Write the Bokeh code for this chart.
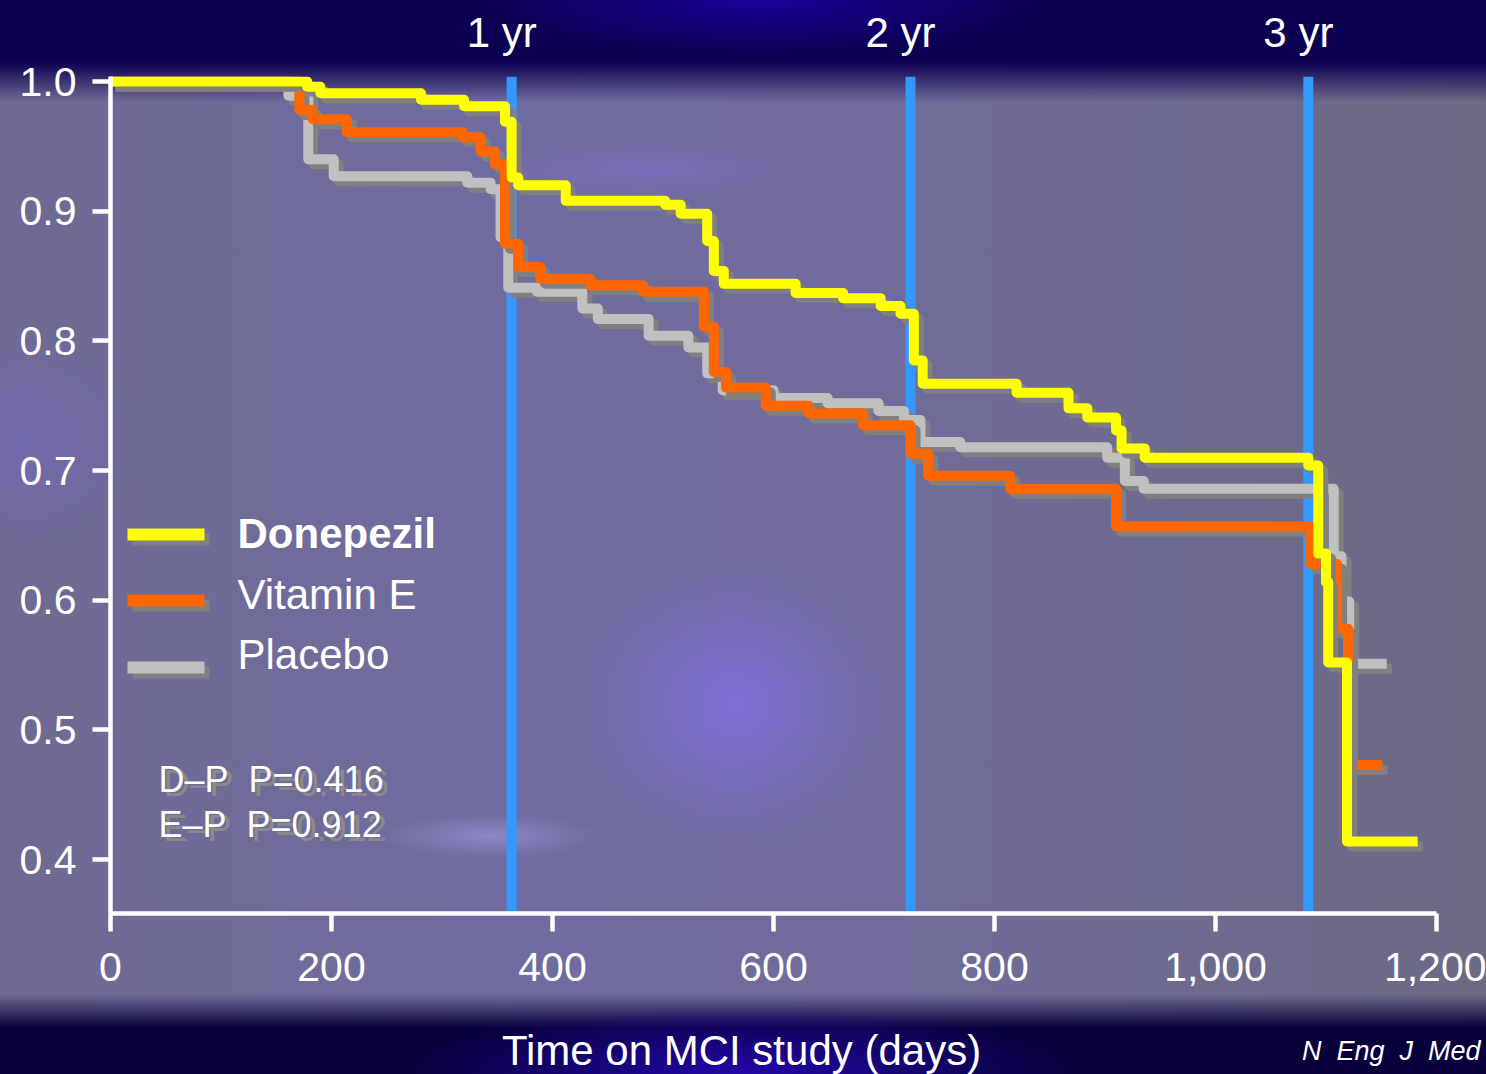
import numpy as np
from bokeh.plotting import figure
from bokeh.models import (Range1d, FixedTicker, NumeralTickFormatter, LinearAxis, Span,
                          Label, BoxAnnotation, GlobalInlineStyleSheet)
from bokeh.embed import file_html
from bokeh.resources import INLINE

# ---------------- data ----------------
donepezil_days = [0, 178, 190, 281, 320, 357, 363, 369, 412, 502, 516, 540, 546, 555, 620,
                  663, 697, 715, 727, 735, 820, 867, 884, 910, 915, 936, 1084, 1093, 1100,
                  1102, 1119, 1183]
donepezil_surv = [1.0, 0.996, 0.991, 0.986, 0.981, 0.969, 0.926, 0.920, 0.908, 0.905, 0.898,
                  0.877, 0.854, 0.844, 0.837, 0.833, 0.827, 0.821, 0.785, 0.767, 0.760, 0.748,
                  0.741, 0.731, 0.717, 0.710, 0.704, 0.636, 0.614, 0.552, 0.414, 0.414]

vitamin_e_days = [0, 171, 183, 214, 319, 335, 348, 357, 369, 389, 434, 482, 537, 546, 557,
                  593, 632, 681, 724, 740, 814, 910, 1086, 1110, 1120, 1151]
vitamin_e_surv = [1.0, 0.978, 0.971, 0.961, 0.957, 0.946, 0.936, 0.875, 0.857, 0.848, 0.843,
                  0.838, 0.811, 0.776, 0.764, 0.750, 0.744, 0.735, 0.713, 0.696, 0.686, 0.657,
                  0.628, 0.578, 0.473, 0.473]

placebo_days = [0, 161, 179, 202, 323, 344, 353, 360, 386, 427, 441, 487, 523, 540, 554, 600,
                649, 695, 718, 733, 769, 902, 918, 935, 1107, 1114, 1121, 1155]
placebo_surv = [1.0, 0.989, 0.940, 0.927, 0.922, 0.917, 0.880, 0.841, 0.838, 0.825, 0.817,
                0.804, 0.795, 0.775, 0.762, 0.756, 0.752, 0.746, 0.739, 0.722, 0.718, 0.710,
                0.692, 0.686, 0.634, 0.599, 0.551, 0.551]

year_marks = [363, 724, 1084]
year_labels = ["1 yr", "2 yr", "3 yr"]
x_ticks = [0, 200, 400, 600, 800, 1000, 1200]
y_ticks = [0.4, 0.5, 0.6, 0.7, 0.8, 0.9, 1.0]
series_names = ["Donepezil", "Vitamin E", "Placebo"]
p_value_texts = ["D\u2013P\u00a0 P=0.416", "E\u2013P\u00a0 P=0.912"]
x_title = "Time on MCI study (days)"
source_note = "N\u00a0 Eng\u00a0 J\u00a0 Med"

# ---------------- style ----------------
FONT = "Liberation Sans"
YELLOW, ORANGE, GRAY, SHADOW, BLUE = "#ffff00", "#ff6600", "#c0c0c0", "#808080", "#3399ff"
W, H = 1486, 1074

bg_layers = [
    "radial-gradient(ellipse 340px 70px at 740px 1074px, rgba(38,8,175,0.95), rgba(38,8,175,0) 100%)",
    "linear-gradient(0deg, rgb(7,0,58) 0px, rgb(7,0,58) 46px, rgba(7,0,58,0) 80px)",
    "radial-gradient(ellipse 280px 55px at 760px 0px, rgba(30,0,170,0.8), rgba(30,0,170,0))",
    "linear-gradient(180deg, rgb(12,0,82) 0px, rgb(12,0,82) 62px, rgba(12,0,82,0) 102px)",
    "radial-gradient(ellipse 170px 150px at 735px 705px, rgba(128,112,225,0.85), rgba(128,112,225,0))",
    "radial-gradient(ellipse 170px 30px at 650px 170px, rgba(130,112,210,0.55), rgba(130,112,210,0))",
    "radial-gradient(ellipse 110px 22px at 490px 836px, rgba(160,150,225,0.6), rgba(160,150,225,0))",
    "radial-gradient(ellipse 120px 120px at 20px 440px, rgba(120,105,210,0.45), rgba(120,105,210,0))",
    "linear-gradient(90deg, #6e6a92 0px, #716ca0 500px, #706b9a 900px, #6c6a84 1486px)",
]
css = "html{min-height:100%;background:" + ",".join(bg_layers) + ";} body{background:transparent;}"

p = figure(width=W, height=H, output_backend="svg", toolbar_location=None,
           x_range=Range1d(0, 1200), y_range=Range1d(0.3585, 1.0039),
           min_border_left=110, min_border_right=50, min_border_top=76, min_border_bottom=161,
           background_fill_color=None, border_fill_color=None, outline_line_color=None)
p.stylesheets = [GlobalInlineStyleSheet(css=css)]
p.grid.visible = False

def style_axis(ax, size="41px", standoff=16):
    ax.axis_line_color = "white"
    ax.axis_line_width = 4.5
    ax.major_tick_line_color = "white"
    ax.major_tick_line_width = 4.5
    ax.major_tick_out = 18
    ax.major_tick_in = 0
    ax.minor_tick_line_color = None
    ax.major_label_text_color = "white"
    ax.major_label_text_font = FONT
    ax.major_label_text_font_size = size
    ax.major_label_standoff = standoff

yax = p.yaxis[0]
style_axis(yax)
yax.ticker = FixedTicker(ticks=y_ticks)
yax.formatter = NumeralTickFormatter(format="0.0")

xax = p.xaxis[0]
style_axis(xax, standoff=21)
xax.ticker = FixedTicker(ticks=x_ticks)
xax.formatter = NumeralTickFormatter(format="0,0")

# year labels on a top axis (range nudged ~10px so labels sit just left of the lines)
p.extra_x_ranges = {"yr": Range1d(9, 1209)}
top_ax = LinearAxis(x_range_name="yr", ticker=FixedTicker(ticks=year_marks),
                    major_label_overrides={m: t for m, t in zip(year_marks, year_labels)},
                    axis_line_color=None, major_tick_line_color=None, minor_tick_line_color=None,
                    major_tick_out=0, major_tick_in=0, major_label_standoff=21,
                    major_label_text_color="white", major_label_text_font=FONT,
                    major_label_text_font_size="42px")
p.add_layout(top_ax, "above")

for m in year_marks:
    p.add_layout(Span(location=m, dimension="height", line_color=BLUE, line_width=10,
                      level="underlay"))

# curves with drop shadows (shadow offset ~5px right/down)
dx, dy = 5 / 1.105, 5 / 1297
series = [(placebo_days, placebo_surv, GRAY),
          (vitamin_e_days, vitamin_e_surv, ORANGE),
          (donepezil_days, donepezil_surv, YELLOW)]
for days, surv, col in series:
    d = np.asarray(days, dtype=float)
    s = np.asarray(surv, dtype=float)
    p.step(d + dx, s - dy, mode="after", line_color=SHADOW, line_width=10, line_join="round")
    p.step(d, s, mode="after", line_color=col, line_width=10, line_join="round")

# legend (canvas pixel units)
legend_cols = [YELLOW, ORANGE, GRAY]
legend_top = [528, 594, 661]
legend_y = [533, 594, 654]
for name, col, top, ly, i in zip(series_names, legend_cols, legend_top, legend_y, range(3)):
    p.add_layout(BoxAnnotation(left=132, right=209, top=top + 5, bottom=top + 17,
                               left_units="canvas", right_units="canvas",
                               top_units="canvas", bottom_units="canvas",
                               fill_color=SHADOW, fill_alpha=1, line_color=None))
    p.add_layout(BoxAnnotation(left=127, right=204, top=top, bottom=top + 12,
                               left_units="canvas", right_units="canvas",
                               top_units="canvas", bottom_units="canvas",
                               fill_color=col, fill_alpha=1, line_color=None))
    p.add_layout(Label(x=237, y=ly, x_units="canvas", y_units="canvas", text=name,
                       text_color="white", text_font=FONT, text_font_size="42px",
                       text_font_style="bold" if i == 0 else "normal",
                       text_baseline="alphabetic", text_align="left"))

for txt, ly in zip(p_value_texts, [779, 824]):
    p.add_layout(Label(x=163, y=ly + 4, x_units="canvas", y_units="canvas", text=txt,
                       text_color="#8a8a8a", text_font=FONT, text_font_size="36px",
                       text_baseline="alphabetic"))
    p.add_layout(Label(x=158, y=ly, x_units="canvas", y_units="canvas", text=txt,
                       text_color="white", text_font=FONT, text_font_size="36px",
                       text_baseline="alphabetic"))

# x-axis title and journal note live in the bottom side panel (not clipped by the frame)
p.add_layout(Label(x=741, y=1050, x_units="canvas", y_units="canvas", text=x_title,
                   text_color="white", text_font=FONT, text_font_size="42px",
                   text_baseline="alphabetic", text_align="center"), "below")
p.add_layout(Label(x=1480, y=1050, x_units="canvas", y_units="canvas", text=source_note,
                   text_color="white", text_font=FONT, text_font_size="27px",
                   text_font_style="italic", text_baseline="alphabetic", text_align="right"),
             "below")

open("out.html", "w").write(file_html(p, INLINE))
